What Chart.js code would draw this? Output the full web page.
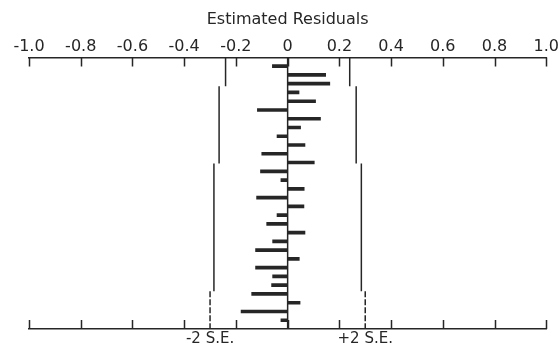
<!DOCTYPE html>
<html>
<head>
<meta charset="utf-8">
<script src="https://cdn.jsdelivr.net/npm/chart.js@4/dist/chart.umd.min.js"></script>
<style>
  html, body { margin: 0; padding: 0; background: #fff; }
  #wrap { width: 560px; height: 355px; }
</style>
</head>
<body>
<div id="wrap"><canvas id="resid"></canvas></div>
<script>
const ink = "#262626";
const fontFam = "'DejaVu Sans', sans-serif";

// lags 1..30, estimated residual autocorrelations
const lags = [1,2,3,4,5,6,7,8,9,10,11,12,13,14,15,16,17,18,19,20,21,22,23,24,25,26,27,28,29,30];
const residuals = [-0.059, 0.147, 0.163, 0.044, 0.108, -0.117, 0.127, 0.050, -0.041, 0.067,
                   -0.100, 0.103, -0.105, -0.026, 0.064, -0.120, 0.063, -0.041, -0.081, 0.067,
                   -0.058, -0.124, 0.045, -0.124, -0.058, -0.062, -0.139, 0.048, -0.180, -0.026];

// +/- 2 S.E. limits, step by lag range
const seLimits = [0.24, 0.265, 0.285, 0.30];
const seBreaks = [0, 3.3, 12.1, 26.7, 31];

const tickVals = [-1.0, -0.8, -0.6, -0.4, -0.2, 0, 0.2, 0.4, 0.6, 0.8, 1.0];
const seLabelVals = [-0.30, 0.30];
const seLabels = ["-2 S.E.", "+2 S.E."];

const lineDs = (pts, dash) => ({
  type: "line", data: pts, xAxisID: "x", yAxisID: "y",
  borderColor: ink, borderWidth: 1.5, pointRadius: 0, borderDash: dash || [], tension: 0
});

const datasets = [{
  type: "bar",
  data: lags.map((l, i) => ({ x: residuals[i], y: l })),
  xAxisID: "x", yAxisID: "y",
  backgroundColor: ink, barThickness: 3
}];
// zero line
datasets.push(lineDs([{ x: 0, y: 0 }, { x: 0, y: 31 }]));
// S.E. segments, last one dashed
seLimits.forEach((se, i) => {
  const dash = i === seLimits.length - 1 ? [6, 2] : [];
  datasets.push(lineDs([{ x: -se, y: seBreaks[i] }, { x: -se, y: seBreaks[i + 1] }], dash));
  datasets.push(lineDs([{ x: se, y: seBreaks[i] }, { x: se, y: seBreaks[i + 1] }], dash));
});

// tick marks pointing into the plot on both axes
const innerTicks = {
  id: "innerTicks",
  afterDraw(chart) {
    const { ctx, chartArea: a } = chart;
    const xs = chart.scales.x;
    ctx.save();
    ctx.strokeStyle = ink;
    ctx.lineWidth = 1.5;
    tickVals.forEach(v => {
      const px = Math.round(xs.getPixelForValue(v)) + 0.5;
      ctx.beginPath();
      ctx.moveTo(px, a.top); ctx.lineTo(px, a.top + 9);
      ctx.moveTo(px, a.bottom); ctx.lineTo(px, a.bottom - 9);
      ctx.stroke();
    });
    ctx.restore();
  }
};

new Chart(document.getElementById("resid"), {
  type: "bar",
  data: { datasets },
  plugins: [innerTicks],
  options: {
    indexAxis: "y",
    responsive: true,
    maintainAspectRatio: false,
    animation: false,
    layout: { padding: { left: 29, right: 11, top: 10, bottom: 6 } },
    plugins: { legend: { display: false }, tooltip: { enabled: false } },
    scales: {
      x: {
        type: "linear", position: "top", min: -1, max: 1,
        grid: { display: false, drawTicks: false, tickLength: 0 },
        border: { display: true, color: ink, width: 1.5 },
        afterBuildTicks: ax => { ax.ticks = tickVals.map(v => ({ value: v })); },
        ticks: {
          autoSkip: false, maxRotation: 0, padding: 1, color: ink,
          font: { family: fontFam, size: 16 },
          callback: v => v === 0 ? "0" : v.toFixed(1)
        },
        title: {
          display: true, text: "Estimated Residuals", color: ink,
          font: { family: fontFam, size: 16 }, padding: { top: 0, bottom: 7 }
        }
      },
      x2: {
        type: "linear", position: "bottom", min: -1, max: 1,
        grid: { display: false, drawTicks: false, tickLength: 0 },
        border: { display: true, color: ink, width: 1.5 },
        afterBuildTicks: ax => { ax.ticks = seLabelVals.map(v => ({ value: v })); },
        ticks: {
          autoSkip: false, maxRotation: 0, padding: 1, color: ink,
          font: { family: fontFam, size: 15 },
          callback: (v, i) => seLabels[i]
        }
      },
      y: { type: "linear", reverse: true, min: 0, max: 31, offset: false, display: false }
    }
  }
});
</script>
</body>
</html>
